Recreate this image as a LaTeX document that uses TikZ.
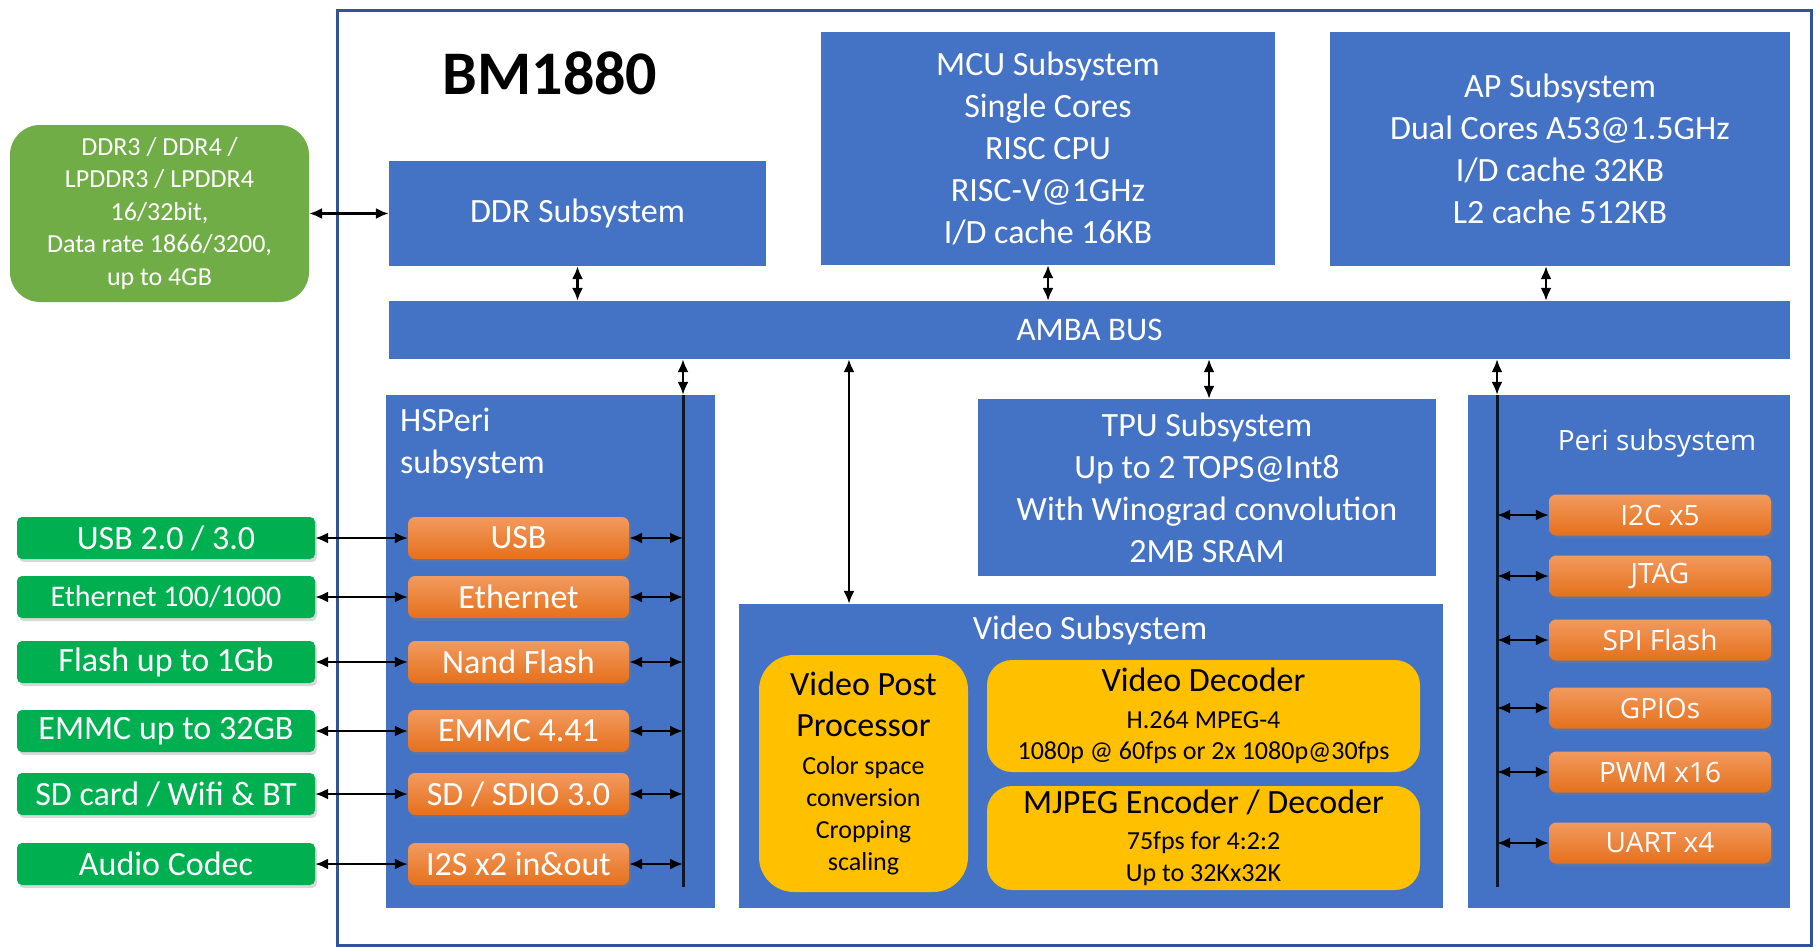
\documentclass[tikz,border=0pt]{standalone}
\usepackage{fontspec}
\setmainfont{Carlito}
\newfontfamily\perifont{Open Sans}
\usetikzlibrary{arrows.meta,shadows,calc}
\definecolor{bblue}{HTML}{4472C4}
\definecolor{chipb}{HTML}{2F5597}
\definecolor{ddrg}{HTML}{70AD47}
\definecolor{ifg}{HTML}{00B050}
\definecolor{orT}{HTML}{F29A5E}
\definecolor{orB}{HTML}{E5701C}
\definecolor{yel}{HTML}{FFC000}
\newcommand{\fsz}[2]{\fontsize{#1}{#2}\selectfont}
\newcommand{\smf}{\fontsize{26}{32}\selectfont}
\begin{document}
\begin{tikzpicture}[x=1pt,y=-1pt,
  blk/.style={fill=bblue, text=white, inner sep=0pt, align=center, font=\fsz{34}{42}},
  conn/.style={line width=2.2pt, {Latex[length=13pt,width=11pt]}-{Latex[length=13pt,width=11pt]}},
  bus/.style={line width=3pt, draw=black!80!bblue},
  orbox/.style={rounded corners=7pt, top color=orT, bottom color=orB, text=white, inner sep=0pt,
    minimum width=221, minimum height=42, font=\fsz{34}{42},
    drop shadow={shadow xshift=2pt, shadow yshift=-3pt, opacity=0.3}},
  periorbox/.style={orbox, minimum width=222, minimum height=41, font=\perifont\fsz{28}{34}},
  ifbox/.style={rounded corners=5pt, fill=ifg, text=white, inner sep=0pt,
    minimum width=298, minimum height=42, font=\fsz{34}{42},
    drop shadow={shadow xshift=2pt, shadow yshift=-3pt, opacity=0.3}},
  yelbox/.style={fill=yel, text=black, inner sep=0pt, align=center, rounded corners=25pt},
]
\useasboundingbox[fill=white] (0,0) rectangle (1816,948);

% chip frame
\node[draw=chipb, line width=3pt, minimum width=1474, minimum height=935, inner sep=0pt] (chip) at (1074,477.5) {};
\node[font=\bfseries\fsz{62}{70}, inner sep=0pt] (title) at (550,73) {BM1880};

% external DDR
\node[fill=ddrg, rounded corners=30pt, text=white, align=center, inner sep=0pt,
  minimum width=299, minimum height=177, font=\fsz{26}{32.5}] (ddrext) at (159.5,213.5)
  {DDR3 / DDR4 /\\LPDDR3 / LPDDR4\\16/32bit,\\Data rate 1866/3200,\\up to 4GB};

% top blocks
\node[blk, minimum width=377, minimum height=105] (ddr) at (577.5,213.5) {DDR Subsystem};
\node[blk, minimum width=454, minimum height=233] (mcu) at (1048,148.5)
  {MCU Subsystem\\Single Cores\\RISC CPU\\RISC-V@1GHz\\I/D cache 16KB};
\node[blk, minimum width=460, minimum height=234] (ap) at (1560,149)
  {AP Subsystem\\Dual Cores A53@1.5GHz\\I/D cache 32KB\\L2 cache 512KB};
\node[blk, minimum width=1401, minimum height=58, font=\fsz{33}{40}] (amba) at (1089.5,330) {AMBA BUS};

% HSPeri
\node[blk, minimum width=329, minimum height=513] (hsperi) at (550.5,651.5) {};
\node[text=white, align=left, anchor=west, inner sep=0pt, font=\fsz{34}{42}] (hstitle) at (400,444) {HSPeri\\subsystem};

% TPU
\node[blk, minimum width=458, minimum height=177] (tpu) at (1207,487.5)
  {TPU Subsystem\\Up to 2 TOPS@Int8\\With Winograd convolution\\2MB SRAM};

% Video
\node[blk, minimum width=704, minimum height=304] (video) at (1091,756) {};
\node[text=white, inner sep=0pt, font=\fsz{34}{42}] (vidtitle) at (1090,630) {Video Subsystem};
\node[yelbox, minimum width=209, minimum height=237, rounded corners=35pt, font=\fsz{34}{32}] (vpp) at (863.5,773.5)
  {Video Post\\[9pt]Processor\\[6pt]\smf Color space\\\smf conversion\\\smf Cropping\\\smf scaling};
\node[yelbox, minimum width=433, minimum height=112, font=\fsz{34}{31}] (vdec) at (1203.5,716)
  {Video Decoder\\[6pt]\smf H.264 MPEG-4\\\smf 1080p @ 60fps or 2x 1080p@30fps};
\node[yelbox, minimum width=433, minimum height=104, font=\fsz{34}{32}] (mjpeg) at (1203.5,838)
  {MJPEG Encoder / Decoder\\[4pt]\smf 75fps for 4:2:2\\\smf Up to 32Kx32K};

% Peri
\node[blk, minimum width=322, minimum height=513] (peri) at (1629,651.5) {};
\node[text=white, inner sep=0pt, font=\perifont\fsz{28}{34}] (perititle) at (1657,443) {Peri subsystem};

% interface boxes (left)
\node[ifbox] (gusb) at (166,538) {USB 2.0 / 3.0};
\node[ifbox, font=\fsz{30}{36}] (geth) at (166,597) {Ethernet 100/1000};
\node[ifbox] (gnand) at (166,662) {Flash up to 1Gb};
\node[ifbox] (gemmc) at (166,731) {EMMC up to 32GB};
\node[ifbox] (gsd) at (166,794) {SD card / Wifi \& BT};
\node[ifbox] (gaud) at (166,864) {Audio Codec};

% HSPeri controllers
\node[orbox] (husb) at (518.5,538) {USB};
\node[orbox] (heth) at (518.5,597) {Ethernet};
\node[orbox] (hnand) at (518.5,662) {Nand Flash};
\node[orbox] (hemmc) at (518.5,731) {EMMC 4.41};
\node[orbox] (hsd) at (518.5,794) {SD / SDIO 3.0};
\node[orbox] (hi2s) at (518.5,864) {I2S x2 in\&out};

% Peri controllers
\node[periorbox] (pi2c) at (1660,515) {I2C x5};
\node[periorbox] (pjtag) at (1660,576) {JTAG};
\node[periorbox] (pspi) at (1660,640) {SPI Flash};
\node[periorbox] (pgpio) at (1660,708) {GPIOs};
\node[periorbox] (ppwm) at (1660,772) {PWM x16};
\node[periorbox] (puart) at (1660,843) {UART x4};

% internal buses
\coordinate (hstop) at (683,395);
\coordinate (hsbot) at (683,887);
\coordinate (pstop) at (1497,395);
\coordinate (psbot) at (1497,887);
\draw[bus] (hstop) -- (hsbot);
\draw[bus] (pstop) -- (psbot);

% connectors
\draw[conn] (ddrext.east) -- (ddr.west);
\draw[conn] (ddr.south) -- (ddr.south |- amba.north);
\draw[conn] (mcu.south) -- (mcu.south |- amba.north);
\coordinate (apx) at (1546,0);
\draw[conn] (ap.south -| apx) -- (apx |- amba.north);
\draw[conn] (amba.south -| hstop) -- (hsperi.north -| hstop);
\coordinate (vidx) at (849,0);
\draw[conn] (amba.south -| vidx) -- (video.north -| vidx);
\coordinate (tpux) at (1209,0);
\draw[conn] (amba.south -| tpux) -- (tpu.north -| tpux);
\draw[conn] (amba.south -| pstop) -- (peri.north -| pstop);

\foreach \a/\b in {gusb/husb, geth/heth, gnand/hnand, gemmc/hemmc, gsd/hsd, gaud/hi2s}{
  \draw[conn] (\a.east) -- (\b.west);
  \draw[conn] (\b.east) -- (\b.east -| hstop);
}
\foreach \b in {pi2c, pjtag, pspi, pgpio, ppwm, puart}{
  \draw[conn] (\b.west -| pstop) -- (\b.west);
}
\end{tikzpicture}
\end{document}
